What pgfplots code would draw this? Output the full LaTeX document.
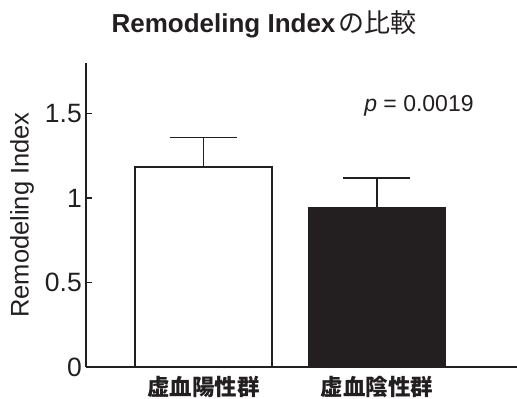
\documentclass[border=0pt]{standalone}
\usepackage{pgfplots}
\pgfplotsset{compat=1.18}
\usepackage{fontspec}
\setmainfont{Liberation Sans}
\newfontfamily\cjk{Noto Sans CJK JP}
\definecolor{ink}{RGB}{35,31,32}
\begin{document}
\begin{tikzpicture}
\begin{axis}[
  at={(86pt,32pt)}, anchor=south west,
  scale only axis, width=431pt, height=304pt,
  xmin=-0.677, xmax=1.807, ymin=0, ymax=1.8,
  axis lines=left,
  axis line style={-, line width=1.6pt, color=ink},
  ytick={0,0.5,1,1.5}, yticklabels={0,0.5,1,1.5},
  xtick={0,1}, xticklabels={{\cjk\bfseries 虚血陽性群},{\cjk\bfseries 虚血陰性群}},
  x tick style={draw=none},
  y tick style={line width=1.6pt, color=ink},
  major tick length=6pt, tick align=inside,
  tick label style={font=\fontsize{26.5}{31}\selectfont, color=ink},
  yticklabel style={inner sep=0pt, xshift=-4pt},
  xticklabel style={inner sep=0pt, yshift=-9pt, font=\fontsize{22.5}{26}\selectfont},
  ylabel={Remodeling Index},
  ylabel style={at={(axis description cs:-0.1485,0.5)}, anchor=center, font=\fontsize{25.5}{30}\selectfont, color=ink},
  clip=false,
]
\addplot[ybar, bar width=137pt, bar shift=0pt, fill=white, draw=ink, line width=1.6pt,
  error bars/.cd, y dir=plus, y explicit,
  error bar style={line width=1.6pt, color=ink},
  error mark options={rotate=90, mark size=33.5pt, line width=1.6pt, color=ink}]
  coordinates {(0,1.183) +- (0,0.177)};
\addplot[ybar, bar width=137pt, bar shift=0pt, fill=ink, draw=ink, line width=1.6pt,
  error bars/.cd, y dir=plus, y explicit,
  error bar style={line width=1.6pt, color=ink},
  error mark options={rotate=90, mark size=33.5pt, line width=1.6pt, color=ink}]
  coordinates {(1,0.94) +- (0,0.18)};
\node[font=\fontsize{23}{27}\selectfont, color=ink] at (axis cs:1.242,1.544) {\textit{p} = 0.0019};
\end{axis}
\node[font=\fontsize{26}{30}\selectfont\bfseries, color=ink] at (264pt,375pt) {Remodeling Index\hspace{3pt}{\cjk\mdseries の比較}};
\pgfresetboundingbox
\useasboundingbox (0,0) rectangle (517pt,399pt);
\end{tikzpicture}
\end{document}
